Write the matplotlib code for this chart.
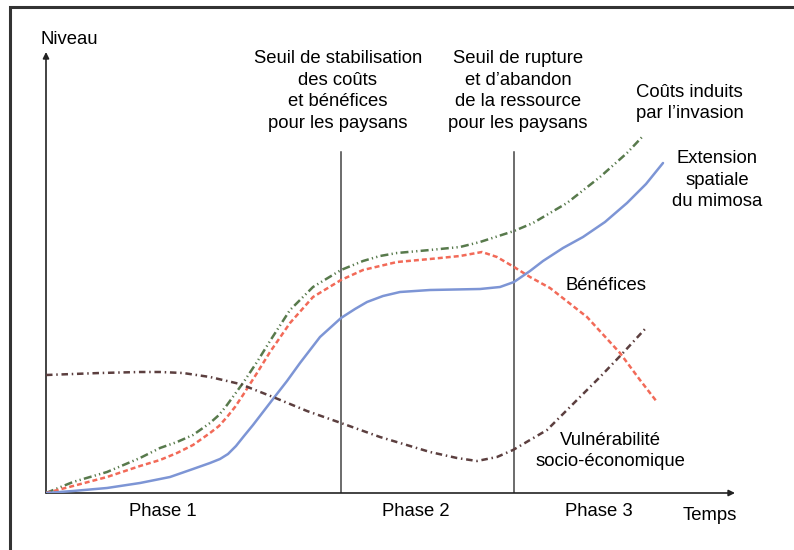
import matplotlib
matplotlib.use("Agg")
import matplotlib.pyplot as plt
from matplotlib.patches import Rectangle

plt.rcParams['font.family'] = ['Liberation Sans', 'DejaVu Sans']

# ---- data (time, level) in chart units: time 0..689, level 0..441 ----
ext_t = [0, 27, 61, 94, 124, 147, 164, 174, 182, 190, 198, 207, 217, 227, 241, 254, 274, 295, 309, 321, 337, 354, 384, 434, 454, 468, 484, 497, 517, 537, 559, 581, 600, 617]
ext_y = [0, 2, 5, 10, 16, 24, 30, 34, 39, 47, 57, 68, 81, 94, 112, 130, 156, 175, 184, 191, 197, 201, 203, 204, 206, 211, 222, 232, 245, 256, 271, 290, 309, 330]

ben_t = [0, 27, 61, 94, 114, 131, 147, 164, 173, 181, 189, 197, 211, 224, 244, 267, 295, 317, 334, 351, 384, 414, 436, 451, 468, 484, 504, 541, 574, 594, 611]
ben_y = [0, 7, 16, 27, 33, 40, 48, 60, 67, 76, 86, 98, 120, 141, 170, 196, 213, 223, 227, 231, 234, 237, 241, 236, 226, 216, 205, 176, 140, 113, 91]

cout_t = [0, 27, 61, 94, 114, 131, 147, 164, 173, 181, 189, 197, 211, 224, 244, 267, 295, 317, 334, 351, 384, 414, 434, 468, 487, 521, 554, 581, 597]
cout_y = [0, 11, 21, 35, 45, 51, 58, 70, 78, 88, 99, 110, 131, 152, 183, 206, 223, 232, 237, 240, 243, 246, 251, 262, 270, 290, 316, 340, 357]

vul_t = [0, 54, 94, 114, 137, 164, 194, 227, 261, 295, 334, 384, 411, 431, 451, 467, 484, 501, 534, 554, 576, 599]
vul_y = [118, 120, 121, 121, 120, 116, 109, 96, 82, 70, 56, 41, 35, 32, 36, 43, 53, 63, 96, 116, 139, 164]

seuils_t = [295, 468]
seuil_top = 341

phase_labels = ["Phase 1", "Phase 2", "Phase 3"]
phase_t = [117, 370, 553]

col_ext = '#7d95d5'
col_ben = '#f26a58'
col_cout = '#587a4c'
col_vul = '#5c3f3f'

fig = plt.figure(figsize=(7.94, 5.5), dpi=100)
fig.patch.set_facecolor('white')

# outer frame (right and bottom edges fall outside the picture)
fig.patches.append(Rectangle((10/794, -0.1), 1.2, 1 - 7/550 + 0.1, transform=fig.transFigure,
                             fill=False, edgecolor='#333333', linewidth=2.2))

ax = fig.add_axes([46/794, 57/550, 689/794, 441/550])
ax.set_xlim(0, 689)
ax.set_ylim(0, 441)
ax.axis('off')

# axes arrows
arrow_kw = dict(arrowstyle='-|>', color='#222222', lw=1.2, mutation_scale=9, shrinkA=0, shrinkB=0)
ax.annotate('', xy=(0, 441), xytext=(0, 0), arrowprops=arrow_kw, annotation_clip=False)
ax.annotate('', xy=(689, 0), xytext=(0, 0), arrowprops=arrow_kw, annotation_clip=False)

# threshold lines
for st in seuils_t:
    ax.plot([st, st], [0, seuil_top], color='#444444', lw=1.1, zorder=1)

lw = 1.8
ax.plot(cout_t, cout_y, color=col_cout, lw=lw, dashes=(3.2, 1.3, 0.5, 1.3, 0.5, 1.3), zorder=3)
ax.plot(ben_t, ben_y, color=col_ben, lw=lw, dashes=(2.0, 1.2), zorder=3)
ax.plot(ext_t, ext_y, color=col_ext, lw=lw, solid_capstyle='round', solid_joinstyle='round', zorder=3)
ax.plot(vul_t, vul_y, color=col_vul, lw=lw, dashes=(2.6, 1.5, 0.6, 1.5), zorder=3)

fs = 13.3
ls = 1.36
ax.text(-5, 454, "Niveau", ha='left', va='center', fontsize=fs)
ax.text(292, 402, "Seuil de stabilisation\ndes coûts\net bénéfices\npour les paysans",
        ha='center', va='center', fontsize=fs, linespacing=ls)
ax.text(472, 402, "Seuil de rupture\net d’abandon\nde la ressource\npour les paysans",
        ha='center', va='center', fontsize=fs, linespacing=ls)
ax.text(590, 390, "Coûts induits\npar l’invasion", ha='left', va='center', fontsize=fs, linespacing=ls)
ax.text(671, 313, "Extension\nspatiale\ndu mimosa", ha='center', va='center', fontsize=fs, linespacing=ls)
ax.text(560, 208, "Bénéfices", ha='center', va='center', fontsize=fs)
ax.text(564, 42, "Vulnérabilité\nsocio-économique", ha='center', va='center', fontsize=fs, linespacing=ls)
for lab, pt in zip(phase_labels, phase_t):
    ax.text(pt, -18, lab, ha='center', va='center', fontsize=fs)
ax.text(664, -23, "Temps", ha='center', va='center', fontsize=fs)

fig.savefig('out.png', dpi=100)
